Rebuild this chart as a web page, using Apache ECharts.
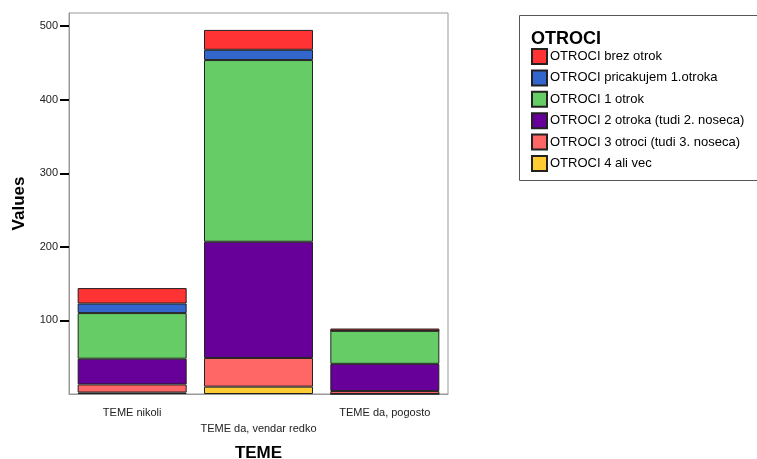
<!DOCTYPE html>
<html>
<head>
<meta charset="utf-8">
<script src="https://cdn.jsdelivr.net/npm/echarts@6/dist/echarts.min.js"></script>
<style>
	html, body { margin: 0; padding: 0; background: #fff; }
	#chart { width: 757px; height: 459px; }
</style>
</head>
<body>
<div id="chart"></div>
<script>
var categories = ['TEME nikoli', 'TEME da, vendar redko', 'TEME da, pogosto'];
var seriesNames = [
	'OTROCI 4 ali vec',
	'OTROCI 3 otroci (tudi 3. noseca)',
	'OTROCI 2 otroka (tudi 2. noseca)',
	'OTROCI 1 otrok',
	'OTROCI pricakujem 1.otroka',
	'OTROCI brez otrok'
];
var yellowVals = [2, 10, 0];
var pinkVals = [11, 39, 4];
var purpleVals = [35, 158, 37];
var greenVals = [62, 247, 45];
var blueVals = [13, 14, 0];
var redVals = [21, 27, 3];
var yTicks = [100, 200, 300, 400, 500];

var colors = ['#ffcc33', '#ff6666', '#660099', '#66cc66', '#3366cc', '#ff3333'];
var allVals = [yellowVals, pinkVals, purpleVals, greenVals, blueVals, redVals];
var legendOrder = [5, 4, 3, 2, 1, 0];

var font = 'Liberation Sans, Arial, sans-serif';

var series = [];
for (var i = 0; i < allVals.length; i++) {
	series.push({
		name: seriesNames[i],
		type: 'bar',
		stack: 'total',
		barWidth: 109,
		data: allVals[i],
		itemStyle: {
			color: colors[i],
			borderColor: '#222',
			borderWidth: 1
		}
	});
}

var chart = echarts.init(document.getElementById('chart'));
chart.setOption({
	animation: false,
	textStyle: { fontFamily: font },
	grid: {
		left: 69,
		top: 13,
		width: 379,
		height: 381,
		containLabel: false,
		outerBoundsMode: 'none',
		show: true,
		borderColor: '#999',
		borderWidth: 1
	},
	title: {
		text: 'OTROCI',
		left: 526,
		top: 25,
		textStyle: { fontFamily: font, fontSize: 18, fontWeight: 'bold', color: '#000' }
	},
	graphic: [{
		type: 'rect',
		left: 517,
		top: 13,
		shape: { width: 250, height: 165 },
		style: { fill: 'none', stroke: '#555', lineWidth: 1 }
	}],
	legend: {
		orient: 'vertical',
		left: 526,
		top: 43,
		itemWidth: 15,
		itemHeight: 15,
		itemGap: 4.4,
		icon: 'rect',
		data: legendOrder.map(function(k) { return seriesNames[k]; }),
		textStyle: { fontFamily: font, fontSize: 13, color: '#000', padding: [0, 0, 0, -2] }
	},
	xAxis: {
		type: 'category',
		data: categories,
		name: 'TEME',
		nameLocation: 'middle',
		nameGap: 51,
		nameTextStyle: { fontFamily: font, fontSize: 17, fontWeight: 'bold', color: '#000' },
		axisLine: { lineStyle: { color: '#999', width: 1 } },
		axisTick: { alignWithLabel: true, length: 6, lineStyle: { color: '#000', width: 2 } },
		axisLabel: {
			interval: 0,
			margin: 11,
			fontSize: 11,
			color: '#222',
			lineHeight: 16,
			formatter: function(v, idx) {
				return idx === 1 ? '\n' + v : v;
			}
		}
	},
	yAxis: {
		type: 'value',
		min: 0,
		max: 518,
		interval: 100,
		name: 'Values',
		nameLocation: 'middle',
		nameGap: 41,
		nameRotate: 90,
		nameTextStyle: { fontFamily: font, fontSize: 17, fontWeight: 'bold', color: '#000' },
		splitLine: { show: false },
		axisLine: { show: true, lineStyle: { color: '#999', width: 1 } },
		axisTick: { show: true, length: 9, customValues: yTicks, lineStyle: { color: '#000', width: 2 } },
		axisLabel: {
			margin: 11,
			fontSize: 11,
			color: '#222',
			customValues: yTicks
		}
	},
	series: series
});
</script>
</body>
</html>
